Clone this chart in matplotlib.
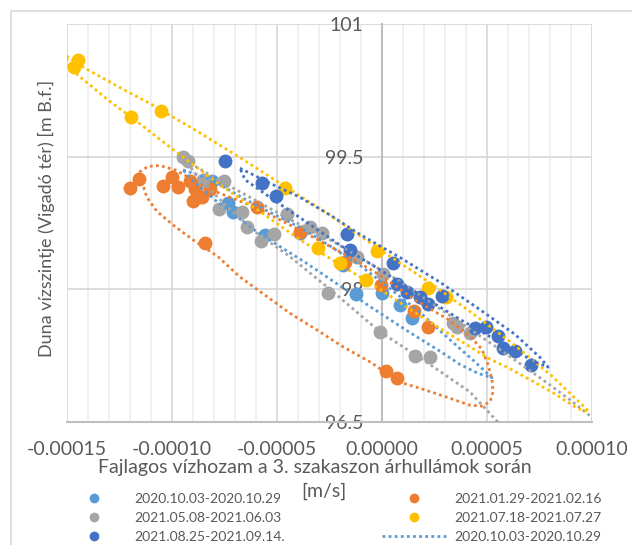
import numpy as np
import matplotlib.pyplot as plt
from matplotlib.lines import Line2D
from matplotlib.patches import Rectangle
from matplotlib.ticker import FixedLocator, FormatStrFormatter

plt.rcParams['font.family'] = ['Lato', 'DejaVu Sans']

# x values are in units of 1e-5 m/s
XSCALE = 1e-5

series_names = ["2020.10.03-2020.10.29", "2021.01.29-2021.02.16", "2021.05.08-2021.06.03",
                "2021.07.18-2021.07.27", "2021.08.25-2021.09.14."]
series_colors = ['#5B9BD5', '#ED7D31', '#A5A5A5', '#FFC000', '#4472C4']

# measured points
lb_x = [-8.07, -7.31, -7.07, -5.55, -3.88, -1.83, -1.21, 0.02, 0.88, 1.45]
lb_y = [99.22, 98.98, 98.88, 98.61, 98.64, 98.28, 97.95, 97.96, 97.82, 97.68]

or_x = [-11.98, -11.55, -10.40, -9.98, -9.69, -9.12, -8.88, -8.98, -8.55, -8.17,
        -5.93, -8.40, -3.88, -1.74, -0.02, 1.55, 2.21, 0.21, 0.74]
or_y = [99.15, 99.25, 99.17, 99.27, 99.16, 99.23, 99.13, 99.00, 99.04, 99.14,
        98.93, 98.52, 98.65, 98.31, 98.05, 97.75, 97.57, 97.08, 97.00]

gr_x = [-9.45, -9.21, -8.50, -7.50, -7.74, -6.64, -6.40, -5.74, -5.12, -4.50, -3.40,
        -2.83, -1.17, 0.07, -2.55, -0.07, 1.60, 2.31, 3.40, 3.60, 4.21]
gr_y = [99.50, 99.45, 99.24, 99.23, 98.91, 98.88, 98.71, 98.55, 98.62, 98.85, 98.70,
        98.64, 98.37, 98.17, 97.96, 97.52, 97.25, 97.23, 97.62, 97.57, 97.51]

ye_x = [-14.45, -14.64, -11.93, -10.50, -4.60, -3.02, -1.98, -0.74, -0.21, 2.21, 3.07]
ye_y = [100.59, 100.51, 99.95, 100.02, 99.15, 98.47, 98.30, 98.10, 98.43, 98.02, 97.91]

db_x = [-7.45, -5.69, -5.02, -1.64, -1.50, 0.55, 0.74, 1.21, 1.83, 2.21, 2.88,
        4.45, 4.98, 5.55, 5.79, 6.36, 7.12]
db_y = [99.45, 99.20, 99.05, 98.62, 98.45, 98.30, 98.06, 97.97, 97.91, 97.83, 97.92,
        97.56, 97.57, 97.47, 97.34, 97.30, 97.14]

# hysteresis loops (dotted)
lb_loop_x = [-9.45, -8.07, -6.74, -5.31, -3.88, -2.45, -1.02, 0.40, 1.83, 3.26, 4.45, 5.26,
             4.60, 3.74, 2.79, 1.36, -0.45, -1.98, -3.60, -5.88, -7.93, -9.12, -9.45]
lb_loop_y = [99.35, 99.24, 99.05, 98.87, 98.70, 98.49, 98.27, 98.01, 97.74, 97.43, 97.18, 97.00,
             97.05, 97.15, 97.30, 97.51, 97.79, 98.04, 98.30, 98.64, 99.01, 99.26, 99.35]

or_loop_x = [-11.36, -11.50, -11.12, -10.55, -9.83, -9.12, -8.17, -6.02, -3.88, -1.64, 0.07, 1.60,
             3.17, 4.21, 4.79, 5.07, 5.26, 5.31, 5.17, 4.79, 4.21, 3.12, 1.98, 0.88, -0.55, -1.83,
             -3.07, -4.36, -6.74, -7.79, -8.98, -9.83, -10.69, -11.17, -11.36, -11.36]
or_loop_y = [99.26, 99.33, 99.39, 99.40, 99.35, 99.26, 99.13, 98.93, 98.67, 98.38, 98.14, 97.88,
             97.66, 97.47, 97.32, 97.15, 96.98, 96.84, 96.73, 96.68, 96.69, 96.78, 96.87, 96.95,
             97.18, 97.35, 97.54, 97.73, 98.14, 98.37, 98.56, 98.71, 98.88, 99.04, 99.18, 99.26]

gr_loop_x = [5.88, 5.50, 4.21, 2.31, -0.07, -2.45, -4.36, -6.02, -7.45, -8.64, -9.36,
             -7.93, -6.26, -4.36, -2.45, -1.02, 0.88, 3.40, 5.64, 7.55, 8.98, 9.93, 10.40]
gr_loop_y = [96.39, 96.51, 96.84, 97.15, 97.52, 98.00, 98.37, 98.65, 98.96, 99.24, 99.46,
             99.26, 99.04, 98.79, 98.56, 98.36, 98.09, 97.68, 97.32, 97.00, 96.75, 96.57, 96.47]

ye_loop_x = [-15.0, -14.12, -12.60, -11.02, -8.79, -6.74, -4.64, -2.45, -0.21, 2.21, 4.21, 6.12,
             8.02, 9.88, 9.36, 8.17, 7.21, 5.98, 5.17, 3.74, 1.83, -0.07, -1.98, -3.88, -5.79,
             -7.69, -9.69, -10.69, -11.93, -13.02, -13.88, -14.45, -14.93, -15.0]
ye_loop_y = [100.64, 100.50, 100.30, 100.10, 99.79, 99.49, 99.17, 98.84, 98.47, 98.09, 97.75, 97.41,
             97.04, 96.62, 96.65, 96.83, 96.96, 97.12, 97.21, 97.42, 97.70, 98.00, 98.28, 98.56,
             98.88, 99.18, 99.54, 99.72, 99.95, 100.14, 100.31, 100.42, 100.55, 100.64]

db_loop_x = [-6.74, -5.31, -3.88, -2.45, -1.02, 0.88, 2.79, 4.69, 6.36, 7.55, 7.93,
             7.31, 5.64, 3.74, 1.83, -0.07, -1.98, -3.88, -5.31, -6.50, -6.74]
db_loop_y = [99.37, 99.20, 99.04, 98.84, 98.62, 98.36, 98.08, 97.77, 97.49, 97.23, 97.12,
             97.18, 97.40, 97.66, 97.94, 98.22, 98.50, 98.81, 99.04, 99.24, 99.37]

points = [(lb_x, lb_y), (or_x, or_y), (gr_x, gr_y), (ye_x, ye_y), (db_x, db_y)]
loops = [(lb_loop_x, lb_loop_y), (or_loop_x, or_loop_y), (gr_loop_x, gr_loop_y),
         (ye_loop_x, ye_loop_y), (db_loop_x, db_loop_y)]

xticks = [-15, -10, -5, 0, 5, 10]
yticks = [96.5, 98, 99.5, 101]

text_col = '#595959'
dotted = (0, (1, 1.2))

fig = plt.figure(figsize=(6.32, 5.45), dpi=100)
ax = fig.add_axes([66.5 / 632, 1 - 422 / 545, 525 / 632, 398 / 545])

for (x, y), c in zip(points, series_colors):
    ax.scatter(np.array(x) * XSCALE, y, s=100, color=c, linewidths=0, zorder=3)
for (x, y), c in zip(loops, series_colors):
    ax.plot(np.array(x) * XSCALE, y, color=c, lw=2, ls=dotted, zorder=4)

ax.set_xlim(-15 * XSCALE, 10 * XSCALE)
ax.set_ylim(96.5, 101)
ax.xaxis.set_major_locator(FixedLocator(np.array(xticks) * XSCALE))
ax.xaxis.set_minor_locator(FixedLocator(np.arange(-15, 11) * XSCALE))
ax.xaxis.set_major_formatter(FormatStrFormatter('%.5f'))
ax.yaxis.set_major_locator(FixedLocator(yticks))
ax.yaxis.set_major_formatter(FormatStrFormatter('%g'))

ax.set_axisbelow(True)
ax.grid(True, which='major', color='#d9d9d9', lw=1.3)
ax.grid(True, which='minor', axis='x', color='#efefef', lw=1.3)

for s in ['top', 'right']:
    ax.spines[s].set_visible(False)
ax.spines['left'].set_position(('data', 0))
ax.spines['left'].set_color('#bfbfbf')
ax.spines['left'].set_linewidth(1.5)
ax.spines['bottom'].set_color('#bfbfbf')
ax.spines['bottom'].set_linewidth(1.5)

ax.tick_params(which='both', length=0, colors=text_col, labelsize=14)
ax.tick_params(axis='y', pad=13)
ax.tick_params(axis='x', pad=14)

fig.text(46 / 632, 1 - 218 / 545, "Duna vízszintje (Vigadó tér) [m B.f.]", rotation=90,
         ha='center', va='center', fontsize=13, color=text_col)
fig.text(315 / 632, 1 - 468 / 545, "Fajlagos vízhozam a 3. szakaszon árhullámok során",
         ha='center', va='center', fontsize=14, color=text_col)
fig.text(324 / 632, 1 - 491 / 545, "[m/s]",
         ha='center', va='center', fontsize=14, color=text_col)

handles = [Line2D([], [], marker='o', ls='none', color=c, markersize=6) for c in series_colors]
handles.append(Line2D([], [], color=series_colors[0], lw=2, ls=dotted))
labels = series_names + [series_names[0]]
order = [0, 2, 4, 1, 3, 5]
fig.legend([handles[i] for i in order], [labels[i] for i in order],
           loc='upper left', bbox_to_anchor=(62 / 632, 1 - 493 / 545), ncol=2,
           frameon=False, fontsize=10, handlelength=4.6, handletextpad=0.6,
           columnspacing=7.0, labelspacing=0.5, borderpad=0, borderaxespad=0,
           labelcolor=text_col)

fig.patches.append(Rectangle((11 / 632, -0.05), 1.0, 1 - 11 / 545 + 0.05, transform=fig.transFigure,
                             fill=False, edgecolor='#d9d9d9', lw=1.2))

fig.savefig('out.png', dpi=100)
